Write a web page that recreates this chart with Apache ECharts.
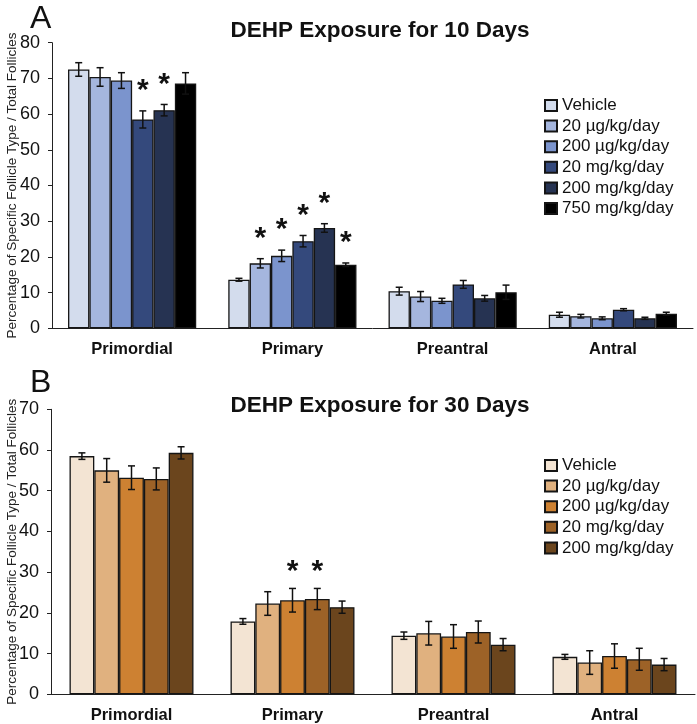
<!DOCTYPE html>
<html><head><meta charset="utf-8">
<script src="https://cdn.jsdelivr.net/npm/echarts@6/dist/echarts.min.js"></script>
<style>html,body{margin:0;padding:0;background:#fff}#c{width:697px;height:724px}</style>
</head><body><div id="c"></div>
<script>
const categories = ['Primordial', 'Primary', 'Preantral', 'Antral'];
const namesA = ['Vehicle', '20 µg/kg/day', '200 µg/kg/day', '20 mg/kg/day', '200 mg/kg/day', '750 mg/kg/day'];
// zero-width space keeps panel B legend entries distinct from panel A
const namesB = ['Vehicle\u200b', '20 µg/kg/day\u200b', '200 µg/kg/day\u200b', '20 mg/kg/day\u200b', '200 mg/kg/day\u200b'];
const yTicksA = [0, 10, 20, 30, 40, 50, 60, 70, 80];
const yTicksB = [0, 10, 20, 30, 40, 50, 60, 70];

// Panel A (10 days): means, errors, significance (1 = asterisk)
const a_vehicle = [72.5, 13.6, 10.4, 3.8];
const a_20ug    = [70.4, 18.2, 8.9, 3.4];
const a_200ug   = [69.4, 20.3, 7.7, 2.8];
const a_20mg    = [58.5, 24.4, 12.3, 5.2];
const a_200mg   = [61.1, 28.1, 8.4, 2.8];
const a_750mg   = [68.6, 17.8, 10.1, 4.1];
const a_err_vehicle = [1.9, 0.4, 1.1, 0.7];
const a_err_20ug    = [2.6, 1.3, 1.4, 0.5];
const a_err_200ug   = [2.2, 1.6, 0.7, 0.4];
const a_err_20mg    = [2.4, 1.6, 1.1, 0.3];
const a_err_200mg   = [1.6, 1.2, 0.8, 0.3];
const a_err_750mg   = [3.0, 0.5, 2.0, 0.4];
const a_sig_vehicle = [0, 0, 0, 0];
const a_sig_20ug    = [0, 1, 0, 0];
const a_sig_200ug   = [0, 1, 0, 0];
const a_sig_20mg    = [1, 1, 0, 0];
const a_sig_200mg   = [1, 1, 0, 0];
const a_sig_750mg   = [0, 1, 0, 0];

// Panel B (30 days)
const b_vehicle = [58.5, 17.9, 14.4, 9.2];
const b_20ug    = [55.0, 22.3, 15.0, 7.8];
const b_200ug   = [53.2, 23.1, 14.2, 9.4];
const b_20mg    = [52.9, 23.4, 15.3, 8.6];
const b_200mg   = [59.3, 21.4, 12.2, 7.3];
const b_err_vehicle = [0.8, 0.7, 0.9, 0.6];
const b_err_20ug    = [2.9, 2.9, 2.9, 2.9];
const b_err_200ug   = [2.9, 2.9, 2.9, 3.0];
const b_err_20mg    = [2.7, 2.6, 2.7, 2.7];
const b_err_200mg   = [1.5, 1.5, 1.5, 1.5];
const b_sig_vehicle = [0, 0, 0, 0];
const b_sig_20ug    = [0, 0, 0, 0];
const b_sig_200ug   = [0, 1, 0, 0];
const b_sig_20mg    = [0, 1, 0, 0];
const b_sig_200mg   = [0, 0, 0, 0];

const colorsA = ['#d3dced', '#a5b6de', '#7b94cd', '#34497c', '#263352', '#000000'];
const colorsB = ['#f3e4d3', '#e0b17f', '#cd8132', '#9d6227', '#6b451d'];

const meansA = [a_vehicle, a_20ug, a_200ug, a_20mg, a_200mg, a_750mg];
const errsA = [a_err_vehicle, a_err_20ug, a_err_200ug, a_err_20mg, a_err_200mg, a_err_750mg];
const sigsA = [a_sig_vehicle, a_sig_20ug, a_sig_200ug, a_sig_20mg, a_sig_200mg, a_sig_750mg];
const meansB = [b_vehicle, b_20ug, b_200ug, b_20mg, b_200mg];
const errsB = [b_err_vehicle, b_err_20ug, b_err_200ug, b_err_20mg, b_err_200mg];
const sigsB = [b_sig_vehicle, b_sig_20ug, b_sig_200ug, b_sig_20mg, b_sig_200mg];

const FONT = 'Liberation Sans, Arial, sans-serif';

function errRender(idx, n, gap, starOff) {
  return function (params, api) {
    const ci = api.value(0), v = api.value(1), e = api.value(2), s = api.value(3);
    const c = api.coord([ci, v]);
    const band = api.size([1, 0])[0];
    const bw = band * (1 - gap) / n;
    const x = c[0] + (idx - (n - 1) / 2) * bw;
    const top = api.coord([ci, v + e])[1];
    const bot = api.coord([ci, v - e])[1];
    const hw = 3.5;
    const st = { stroke: '#111', lineWidth: 1.5 };
    const ch = [
      { type: 'line', shape: { x1: x, y1: top, x2: x, y2: bot }, style: st },
      { type: 'line', shape: { x1: x - hw, y1: top, x2: x + hw, y2: top }, style: st },
      { type: 'line', shape: { x1: x - hw, y1: bot, x2: x + hw, y2: bot }, style: st }
    ];
    if (s) {
      ch.push({ type: 'text', style: { text: '*', x: x, y: top - starOff, align: 'center', verticalAlign: 'middle',
        font: 'bold 30px ' + FONT, fill: '#111' } });
    }
    return { type: 'group', children: ch };
  };
}

const series = [];
function addPanel(names, means, errs, sigs, colors, axisIdx, gap, starOff) {
  const n = names.length;
  names.forEach((nm, i) => {
    series.push({
      type: 'bar', name: nm, xAxisIndex: axisIdx, yAxisIndex: axisIdx,
      data: means[i], barGap: '0%', barCategoryGap: (gap * 100) + '%',
      itemStyle: { color: colors[i], borderColor: '#151515', borderWidth: 1.3 },
      animation: false
    });
  });
  names.forEach((nm, i) => {
    series.push({
      type: 'custom', name: 'err' + axisIdx + '_' + i, xAxisIndex: axisIdx, yAxisIndex: axisIdx,
      renderItem: errRender(i, n, gap, starOff), z: 5, animation: false,
      encode: { x: 0, y: 1 },
      data: means[i].map((v, k) => [k, v, errs[i][k], sigs[i][k]])
    });
  });
}
addPanel(namesA, meansA, errsA, sigsA, colorsA, 0, 0.2, 20);
addPanel(namesB, meansB, errsB, sigsB, colorsB, 1, 0.23, 17);

const yName = 'Percentage of Specific Follicle Type / Total Follicles';
function yAxis(idx, max, ticks, gap) {
  return {
    type: 'value', gridIndex: idx, min: 0, max: max, interval: 10,
    axisLine: { show: true, lineStyle: { color: '#222', width: 1 } },
    axisTick: { show: true, length: 4, lineStyle: { color: '#222' } },
    axisLabel: { fontSize: 18, color: '#111', fontFamily: FONT, margin: 12,
      formatter: v => ticks.includes(v) ? String(v) : '' },
    splitLine: { show: false },
    name: yName, nameLocation: 'middle', nameRotate: 90, nameGap: gap, nameMoveOverlap: false,
    nameTextStyle: { fontSize: 13.5, color: '#222', fontFamily: FONT }
  };
}
function xAxis(idx) {
  return {
    type: 'category', gridIndex: idx, data: categories,
    axisLine: { show: true, lineStyle: { color: '#222', width: 1 } },
    axisTick: { show: false },
    axisLabel: { fontSize: 16.5, fontWeight: 'bold', color: '#111', fontFamily: FONT, margin: 13 }
  };
}
function legend(names, top) {
  return {
    data: names, orient: 'vertical', left: 539, top: top, icon: 'rect',
    itemWidth: 12, itemHeight: 11, itemGap: 3.6,
    textStyle: { fontSize: 17, color: '#111', fontFamily: FONT },
    selectedMode: false
  };
}

const chart = echarts.init(document.getElementById('c'), null, { renderer: 'canvas' });
chart.setOption({
  backgroundColor: '#fff',
  animation: false,
  title: [
    { text: 'A', left: 25, top: -2, textStyle: { fontSize: 32, fontWeight: 'normal', color: '#111', fontFamily: FONT } },
    { text: 'DEHP Exposure for 10 Days', left: 375, top: 14, textAlign: 'center',
      textStyle: { fontSize: 22.5, fontWeight: 'bold', color: '#111', fontFamily: FONT } },
    { text: 'B', left: 25, top: 362, textStyle: { fontSize: 32, fontWeight: 'normal', color: '#111', fontFamily: FONT } },
    { text: 'DEHP Exposure for 30 Days', left: 375, top: 389, textAlign: 'center',
      textStyle: { fontSize: 22.5, fontWeight: 'bold', color: '#111', fontFamily: FONT } }
  ],
  legend: [legend(namesA, 92), legend(namesB, 452)],
  grid: [
    { left: 52, right: 4, top: 42.7, bottom: 395.7, containLabel: false, outerBoundsMode: 'none' },
    { left: 51, right: 2, top: 409.3, bottom: 29.7, containLabel: false, outerBoundsMode: 'none' }
  ],
  xAxis: [xAxis(0), xAxis(1)],
  yAxis: [yAxis(0, 80, yTicksA, 33), yAxis(1, 70, yTicksB, 32)],
  series: series
});
</script></body></html>
